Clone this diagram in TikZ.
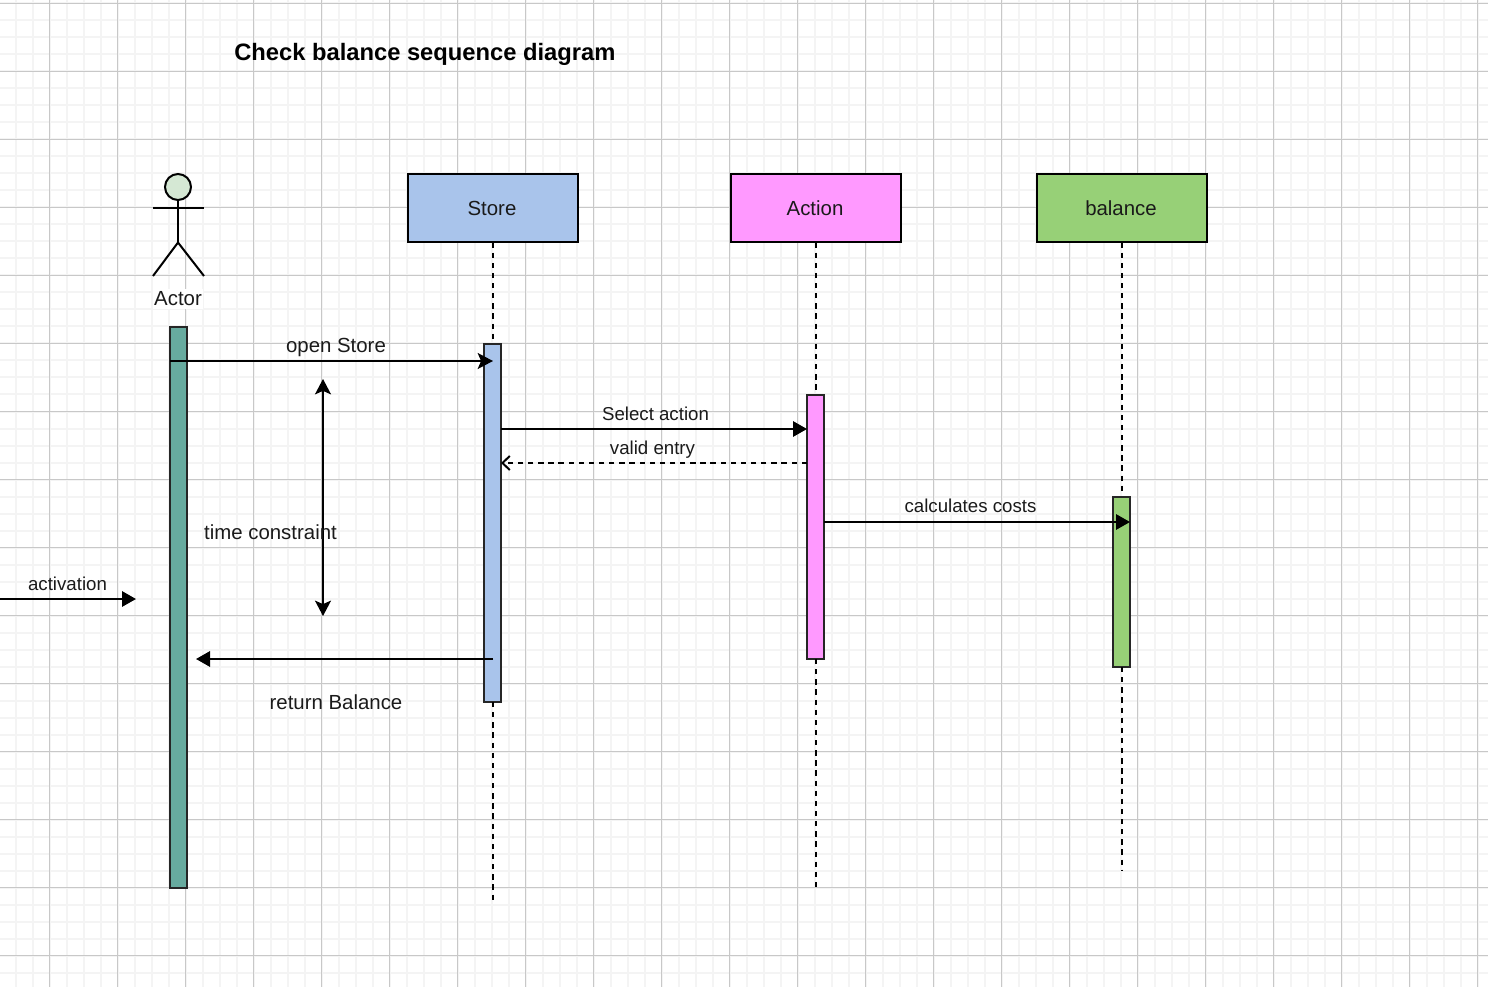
\documentclass[tikz,border=0pt]{standalone}
\usepackage{fontspec}
\setmainfont{Liberation Sans}
\usepackage{xcolor}
\usetikzlibrary{arrows.meta, positioning}
\definecolor{GridMinor}{HTML}{F4F4F4}
\definecolor{GridMajor}{HTML}{C8C8C8}
\definecolor{StoreBlue}{HTML}{A9C4EB}
\definecolor{ActionPink}{HTML}{FF99FF}
\definecolor{BalanceGreen}{HTML}{97D077}
\definecolor{ActorTeal}{HTML}{67AB9F}
\definecolor{HeadGreen}{HTML}{D5E8D4}
\definecolor{TextDark}{HTML}{1A1A1A}
\tikzset{
  headbox/.style={draw=black, line width=1.5pt, minimum width=127.5pt, minimum height=51pt, inner sep=0pt, outer sep=0pt, text=TextDark, font=\fontsize{15.3}{18}\selectfont},
  barbox/.style={draw=black!85, line width=1.5pt, minimum width=12.75pt, inner sep=0pt, outer sep=0pt},
  lifeline/.style={black, line width=1.5pt, dash pattern=on 4pt off 3.6pt},
  msg/.style={black, line width=1.5pt},
  biglabel/.style={anchor=base, text=TextDark, inner sep=0pt, font=\fontsize{15.3}{18}\selectfont},
  smalllabel/.style={anchor=base, text=TextDark, inner sep=0pt, font=\fontsize{14}{17}\selectfont},
  solidtip/.style={-{Triangle[length=10.5pt,width=11.5pt]}},
  notchtip/.style={-{Stealth[length=11.5pt,width=12pt,inset=2.6pt]}},
}
\begin{document}
\begin{tikzpicture}[x=0.75pt, y=-0.75pt]
  \useasboundingbox (0,0) rectangle (1488,987);
  % grid
  \foreach \gx in {-1.5,15.5,...,1488} \draw[GridMinor, line width=1.5pt] (\gx,0) -- (\gx,987);
  \foreach \gy in {3.5,20.5,...,987} \draw[GridMinor, line width=1.5pt] (0,\gy) -- (1488,\gy);
  \foreach \gx in {49.5,117.5,...,1488} \draw[GridMajor, line width=1pt] (\gx,0) -- (\gx,987);
  \foreach \gy in {3.5,71.5,...,987} \draw[GridMajor, line width=1pt] (0,\gy) -- (1488,\gy);
  % title
  \node[anchor=base west, inner sep=0pt, font=\fontsize{17.8}{21}\selectfont\bfseries] (title) at (234,60.5) {Check balance sequence diagram};
  % header boxes
  \node[headbox, fill=StoreBlue] (storebox) at (493,208.5) {\kern-1.5pt Store};
  \node[headbox, fill=ActionPink] (actionbox) at (816,208.5) {\kern-1.5pt Action};
  \node[headbox, fill=BalanceGreen] (balancebox) at (1122,208.5) {\kern-1.5pt balance};
  % activation bars
  \node[barbox, fill=ActorTeal, minimum height=420.75pt] (actorbar) at (178.5,607.5) {};
  \node[barbox, fill=StoreBlue, minimum height=268.5pt] (storebar) at (492.5,523) {};
  \node[barbox, fill=ActionPink, minimum height=198pt] (actionbar) at (815.5,527) {};
  \node[barbox, fill=BalanceGreen, minimum height=127.5pt] (balancebar) at (1121.5,582) {};
  % lifelines
  \coordinate (storeend) at (493,901);
  \coordinate (actionend) at (816,889);
  \coordinate (balanceend) at (1122,870);
  \draw[lifeline] (storebox.south) -- ++(0,97);
  \draw[lifeline] (storeend |- storebar.south) -- (storeend);
  \draw[lifeline] (actionbox.south) -- ++(0,149);
  \draw[lifeline] (actionend |- actionbar.south) -- (actionend);
  \draw[lifeline] (balancebox.south) -- ++(0,251);
  \draw[lifeline] (balanceend |- balancebar.south) -- (balanceend);
  % actor
  \node[draw=black, fill=HeadGreen, circle, line width=1.5pt, minimum size=19.5pt, inner sep=0pt, outer sep=0pt] (actorhead) at (178,187) {};
  \coordinate (actorhip) at (178,242.5);
  \draw[msg] (actorhead.south) -- (actorhip);
  \draw[msg] (153,208) -- (204,208);
  \draw[msg] (153,276) -- (actorhip) -- (204,276);
  \node[biglabel, fill=white, inner xsep=1pt, inner ysep=2pt] (actorlabel) at (178,306) {Actor};
  % messages
  \draw[msg, notchtip] (actorbar.west |- 0,361) -- (storeend |- 0,361);
  \node[biglabel] (openlabel) at (336,352.5) {open Store};
  \draw[msg, solidtip] (storebar.east |- 0,429) -- (actionbar.west |- 0,429);
  \node[smalllabel] (selectlabel) at (655.5,420) {Select action};
  \draw[msg, dash pattern=on 4pt off 3.6pt, -{Straight Barb[length=5.5pt,width=10.5pt]}] (actionbar.west |- 0,463) -- (storebar.east |- 0,463);
  \node[smalllabel] (validlabel) at (652.5,454) {valid entry};
  \draw[msg, solidtip] (actionbar.east |- 0,522) -- (balancebar.east |- 0,522);
  \node[smalllabel] (costlabel) at (970.5,512) {calculates costs};
  % time constraint
  \coordinate (limittop) at (323,379);
  \coordinate (limitbot) at (323,616);
  \draw[msg, {Stealth[length=11.5pt,width=12pt,inset=2.6pt]}-{Stealth[length=11.5pt,width=12pt,inset=2.6pt]}] (limittop) -- (limitbot);
  \node[biglabel] (timelabel) at (270.5,539) {time constraint};
  % activation and return
  \coordinate (entrypoint) at (0,599);
  \coordinate (entrytip) at (136,599);
  \draw[msg, solidtip] (entrypoint) -- (entrytip);
  \node[smalllabel] (entrylabel) at (67.5,590) {activation};
  \coordinate (returntip) at (196,659);
  \draw[msg, solidtip] (storeend |- returntip) -- (returntip);
  \node[biglabel] (returnlabel) at (336,709) {return Balance};
\end{tikzpicture}
\end{document}
